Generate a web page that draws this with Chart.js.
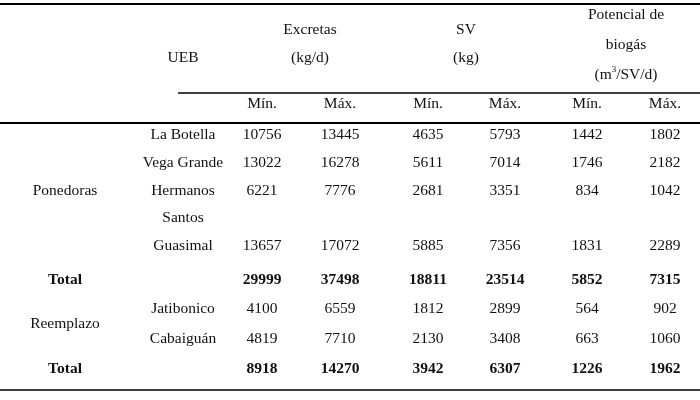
<!DOCTYPE html>
<html><head><meta charset="utf-8">
<script src="https://cdn.jsdelivr.net/npm/chart.js@4/dist/chart.umd.min.js"></script>
<style>html,body{margin:0;background:#fff}#wrap{width:700px;height:400px}</style>
</head><body><div id="wrap"><canvas id="c"></canvas></div>
<script>
// table data
const ueb = ["La Botella", "Vega Grande", "Hermanos", "Santos", "Guasimal", "", "Jatibonico", "Cabaiguán", ""];
const rowLabels = ["", "", "Ponedoras", "", "", "Total", "Reemplazo", "", "Total"];
const excretasMin = [10756, 13022, 6221, null, 13657, 29999, 4100, 4819, 8918];
const excretasMax = [13445, 16278, 7776, null, 17072, 37498, 6559, 7710, 14270];
const svMin = [4635, 5611, 2681, null, 5885, 18811, 1812, 2130, 3942];
const svMax = [5793, 7014, 3351, null, 7356, 23514, 2899, 3408, 6307];
const bioMin = [1442, 1746, 834, null, 1831, 5852, 564, 663, 1226];
const bioMax = [1802, 2182, 1042, null, 2289, 7315, 902, 1060, 1962];
const subHeads = ["Mín.", "Máx.", "Mín.", "Máx.", "Mín.", "Máx."];

// layout
const rowY = [135, 163, 191, 218, 246, 280, 309, 339, 369];
const labelY = [0, 0, 191, 0, 0, 280, 324, 0, 369];
const colX = [262, 340, 428, 505, 587, 665];
const boldRows = [5, 8];
const FONT = "'Liberation Serif', 'DejaVu Serif', serif";
const SIZE = 15.5;

const cols = [excretasMin, excretasMax, svMin, svMax, bioMin, bioMax];

const rules = [
  {x0: 0, x1: 700, y: 4, w: 2},
  {x0: 178, x1: 700, y: 93, w: 1.3},
  {x0: 0, x1: 700, y: 123, w: 2},
  {x0: 0, x1: 700, y: 390, w: 1.3}
];

const tablePlugin = {
  id: "table",
  afterDraw(chart) {
    const {ctx, scales: {x, y}} = chart;
    const px = v => x.getPixelForValue(v), py = v => y.getPixelForValue(v);
    ctx.save();
    ctx.strokeStyle = "#000";
    rules.forEach(r => {
      ctx.lineWidth = r.w;
      ctx.beginPath(); ctx.moveTo(px(r.x0), py(r.y)); ctx.lineTo(px(r.x1), py(r.y)); ctx.stroke();
    });
    ctx.fillStyle = "#111";
    ctx.textAlign = "center"; ctx.textBaseline = "middle";
    const t = (s, xx, yy, bold) => {
      ctx.font = (bold ? "bold " : "") + SIZE + "px " + FONT;
      ctx.fillText(s, px(xx), py(yy));
    };
    t("UEB", 183, 58);
    t("Excretas", 310, 30); t("(kg/d)", 310, 58);
    t("SV", 466, 30); t("(kg)", 466, 58);
    t("Potencial de", 626, 15); t("biogás", 626, 45);
    ctx.font = SIZE + "px " + FONT;
    const a = "(m", b = "/SV/d)";
    const wa = ctx.measureText(a).width, wb = ctx.measureText(b).width;
    ctx.font = "9px " + FONT; const ws = ctx.measureText("3").width;
    let sx = px(626) - (wa + wb + ws) / 2;
    ctx.textAlign = "left";
    ctx.font = SIZE + "px " + FONT; ctx.fillText(a, sx, py(75));
    ctx.font = "9px " + FONT; ctx.fillText("3", sx + wa, py(70));
    ctx.font = SIZE + "px " + FONT; ctx.fillText(b, sx + wa + ws, py(75));
    ctx.textAlign = "center";
    subHeads.forEach((s, i) => t(s, colX[i], 104));
    rowLabels.forEach((s, i) => { if (s) t(s, 65, labelY[i], boldRows.includes(i)); });
    ueb.forEach((s, i) => { if (s) t(s, 183, rowY[i]); });
    cols.forEach((col, c) => col.forEach((v, i) => {
      if (v != null) t(String(v), colX[c], rowY[i], boldRows.includes(i));
    }));
    ctx.restore();
  }
};

new Chart(document.getElementById("c"), {
  type: "scatter",
  data: {datasets: [{data: []}]},
  options: {
    responsive: true, maintainAspectRatio: false, animation: false,
    layout: {padding: 0},
    plugins: {legend: {display: false}, tooltip: {enabled: false}},
    scales: {
      x: {type: "linear", min: 0, max: 700, display: false},
      y: {type: "linear", min: 0, max: 400, reverse: true, display: false}
    }
  },
  plugins: [tablePlugin]
});
</script></body></html>
